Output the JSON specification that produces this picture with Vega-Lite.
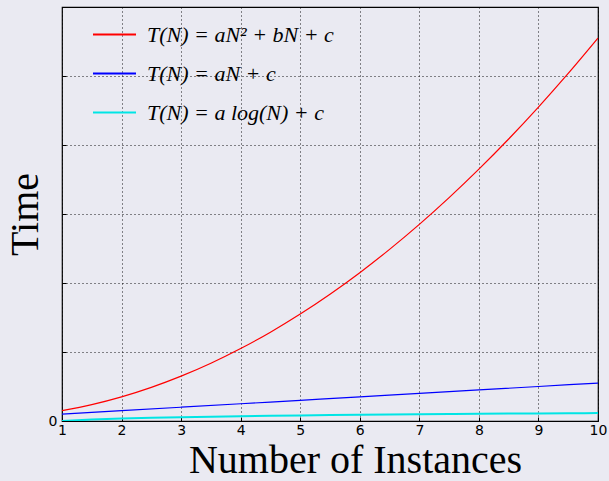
{
  "$schema": "https://vega.github.io/schema/vega-lite/v6.json",
  "width": 536,
  "height": 414,
  "autosize": "none",
  "padding": {"left": 62, "top": 7, "right": 11, "bottom": 60},
  "background": "#eaeaf2",
  "config": {
    "view": {"stroke": "black", "strokeWidth": 1.2, "fill": "#eaeaf2"},
    "axis": {
      "gridColor": "black",
      "gridDash": [1, 3],
      "gridOpacity": 0.9,
      "gridWidth": 1,
      "domain": false,
      "tickColor": "black",
      "tickSize": -4,
      "labelColor": "black",
      "titleColor": "black",
      "titleFontWeight": "normal"
    },
    "legend": {"symbolStrokeWidth": 2}
  },
  "data": {
    "values": [
      {"N": 1, "T": 3, "s": "quad"},
      {"N": 1.5, "T": 4.75, "s": "quad"},
      {"N": 2, "T": 7, "s": "quad"},
      {"N": 2.5, "T": 9.75, "s": "quad"},
      {"N": 3, "T": 13, "s": "quad"},
      {"N": 3.5, "T": 16.75, "s": "quad"},
      {"N": 4, "T": 21, "s": "quad"},
      {"N": 4.5, "T": 25.75, "s": "quad"},
      {"N": 5, "T": 31, "s": "quad"},
      {"N": 5.5, "T": 36.75, "s": "quad"},
      {"N": 6, "T": 43, "s": "quad"},
      {"N": 6.5, "T": 49.75, "s": "quad"},
      {"N": 7, "T": 57, "s": "quad"},
      {"N": 7.5, "T": 64.75, "s": "quad"},
      {"N": 8, "T": 73, "s": "quad"},
      {"N": 8.5, "T": 81.75, "s": "quad"},
      {"N": 9, "T": 91, "s": "quad"},
      {"N": 9.5, "T": 100.75, "s": "quad"},
      {"N": 10, "T": 111, "s": "quad"},
      {"N": 1, "T": 2, "s": "lin"},
      {"N": 2, "T": 3, "s": "lin"},
      {"N": 3, "T": 4, "s": "lin"},
      {"N": 4, "T": 5, "s": "lin"},
      {"N": 5, "T": 6, "s": "lin"},
      {"N": 6, "T": 7, "s": "lin"},
      {"N": 7, "T": 8, "s": "lin"},
      {"N": 8, "T": 9, "s": "lin"},
      {"N": 9, "T": 10, "s": "lin"},
      {"N": 10, "T": 11, "s": "lin"},
      {"N": 1, "T": 0, "s": "log"},
      {"N": 1.5, "T": 0.405, "s": "log"},
      {"N": 2, "T": 0.693, "s": "log"},
      {"N": 2.5, "T": 0.916, "s": "log"},
      {"N": 3, "T": 1.099, "s": "log"},
      {"N": 3.5, "T": 1.253, "s": "log"},
      {"N": 4, "T": 1.386, "s": "log"},
      {"N": 4.5, "T": 1.504, "s": "log"},
      {"N": 5, "T": 1.609, "s": "log"},
      {"N": 5.5, "T": 1.705, "s": "log"},
      {"N": 6, "T": 1.792, "s": "log"},
      {"N": 6.5, "T": 1.872, "s": "log"},
      {"N": 7, "T": 1.946, "s": "log"},
      {"N": 7.5, "T": 2.015, "s": "log"},
      {"N": 8, "T": 2.079, "s": "log"},
      {"N": 8.5, "T": 2.140, "s": "log"},
      {"N": 9, "T": 2.197, "s": "log"},
      {"N": 9.5, "T": 2.251, "s": "log"},
      {"N": 10, "T": 2.303, "s": "log"}
    ]
  },
  "encoding": {
    "x": {
      "field": "N",
      "type": "quantitative",
      "scale": {"domain": [1, 10], "nice": false, "zero": false},
      "axis": {
        "values": [1, 2, 3, 4, 5, 6, 7, 8, 9, 10],
        "title": "Number of Instances",
        "titleFont": "Liberation Serif",
        "titleFontSize": 40,
        "titlePadding": 3,
        "titleX": 293,
        "titleAlign": "center",
        "labelFont": "DejaVu Sans",
        "labelFontSize": 14,
        "labelPadding": 6,
        "labelFlush": false
      }
    },
    "y": {
      "field": "T",
      "type": "quantitative",
      "scale": {"domain": [0, 120], "nice": false},
      "axis": {
        "values": [0, 20, 40, 60, 80, 100, 120],
        "labelExpr": "datum.value == 0 ? '0' : ''",
        "title": "Time",
        "titleFont": "Liberation Serif",
        "titleFontSize": 40,
        "titlePadding": 3,
        "labelFont": "DejaVu Sans",
        "labelFontSize": 14,
        "labelPadding": 9,
        "labelBaseline": "middle"
      }
    },
    "color": {
      "field": "s",
      "type": "nominal",
      "sort": ["quad", "lin", "log"],
      "scale": {"domain": ["quad", "lin", "log"], "range": ["#ff0000", "#0000ff", "#00e5e5"]},
      "legend": {
        "orient": "none",
        "legendX": 30,
        "legendY": 5,
        "title": null,
        "symbolType": "stroke",
        "symbolSize": 1849,
        "symbolStrokeWidth": 2,
        "rowPadding": 5,
        "labelFont": "Liberation Serif",
        "labelFontStyle": "italic",
        "labelFontSize": 22,
        "labelColor": "black",
        "labelOffset": 10,
        "labelLimit": 400,
        "labelExpr": "datum.value == 'quad' ? 'T(N) = aN² + bN + c' : datum.value == 'lin' ? 'T(N) = aN + c' : 'T(N) = a log(N) + c'",
        "encode": {"symbols": {"update": {"strokeWidth": {"value": 2}}}}
      }
    }
  },
  "layer": [
    {
      "transform": [{"filter": "datum.s != 'log'"}],
      "mark": {"type": "line", "interpolate": "monotone", "strokeWidth": 1.2, "clip": true}
    },
    {
      "transform": [{"filter": "datum.s == 'log'"}],
      "mark": {"type": "line", "interpolate": "monotone", "strokeWidth": 2, "clip": true}
    }
  ]
}
